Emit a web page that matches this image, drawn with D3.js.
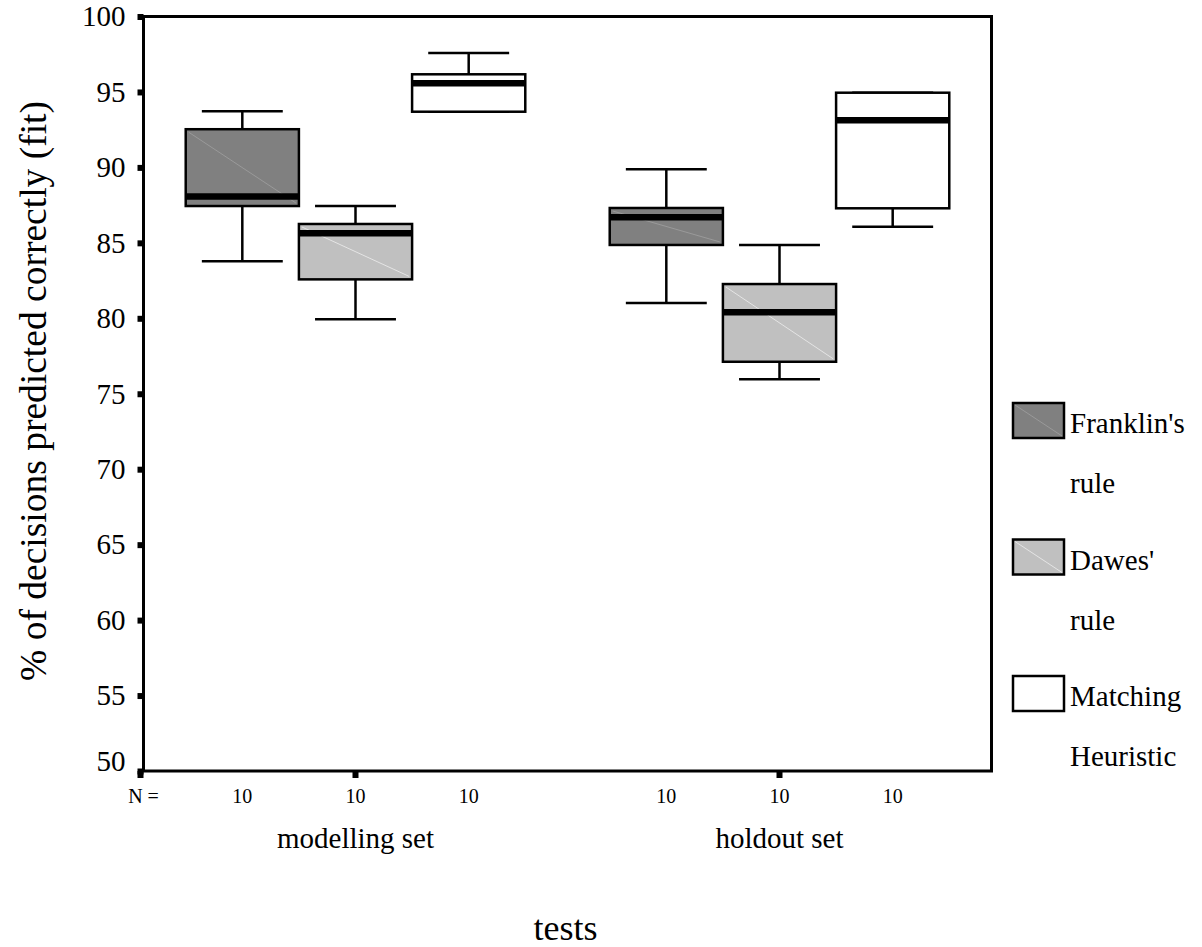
<!DOCTYPE html>
<html>
<head>
<meta charset="UTF-8">
<title>Boxplot: % of decisions predicted correctly</title>
<script src="https://d3js.org/d3.v7.min.js"></script>
<style>
    body { margin: 0; background: #fff; }
    svg { display: block; }
    svg text { font-family: "Liberation Serif", "DejaVu Serif", "Times New Roman", Times, serif; fill: #000; }
    .y-axis text { font-size: 29px; }
    .x-axis text { font-size: 20px; }
</style>
</head>
<body>
<div id="chart"></div>
<script>
    // groups on the x axis and the three rules inside each group
    let groups = ["modelling set", "holdout set"];
    let rules = ["Franklin's rule", "Dawes' rule", "Matching Heuristic"];
    let ruleLines = [["Franklin's", "rule"], ["Dawes'", "rule"], ["Matching", "Heuristic"]];
    let ruleColors = ["#808080", "#c0c0c0", "#ffffff"];
    let counts = [10, 10, 10];

    // [min, q1, median, q3, max] per group, one array per rule
    let franklin = [[83.78, 87.44, 88.07, 92.53, 93.72], [81.01, 84.86, 86.69, 87.31, 89.87]];
    let dawes    = [[79.93, 82.58, 85.63, 86.25, 87.44], [75.96, 77.12, 80.40, 82.27, 84.86]];
    let matching = [[93.69, 93.69, 95.57, 96.17, 97.58], [86.07, 87.29, 93.12, 94.95, 94.95]];
    let yTicks = [50, 55, 60, 65, 70, 75, 80, 85, 90, 95, 100];

    let stats = [franklin, dawes, matching];

    let serif = "'Liberation Serif', 'DejaVu Serif', 'Times New Roman', Times, serif";
    let W = 1202, H = 947;
    let plot = { left: 143.5, right: 991.5, top: 16.5, bottom: 771 };

    let svg = d3.select("#chart").append("svg")
        .attr("width", W)
        .attr("height", H)
        .attr("font-family", serif);

    let y = d3.scaleLinear()
        .domain([50, 100])
        .range([plot.bottom, plot.top]);

    let x0 = d3.scaleBand()
        .domain(groups)
        .range([plot.left, plot.right])
        .padding(0);

    let x1 = d3.scaleBand()
        .domain(rules)
        .range([0, x0.bandwidth()])
        .paddingInner(0)
        .paddingOuter(0.373);

    // frame
    svg.append("rect")
        .attr("x", plot.left)
        .attr("y", plot.top)
        .attr("width", plot.right - plot.left)
        .attr("height", plot.bottom - plot.top)
        .attr("fill", "none")
        .attr("stroke", "#000")
        .attr("stroke-width", 3);

    // y axis with square ticks
    let yAxis = svg.append("g")
        .attr("class", "y-axis")
        .attr("transform", "translate(" + plot.left + ",0)")
        .call(d3.axisLeft(y).tickValues(yTicks).tickSize(6).tickPadding(12));
    yAxis.attr("font-family", serif).attr("font-size", 29);
    yAxis.select(".domain").remove();
    yAxis.selectAll(".tick line").attr("stroke-width", 6);
    yAxis.selectAll(".tick text").attr("fill", "#000")
        .attr("dy", d => d == 50 ? "-0.02em" : "0.32em");

    // bottom squares at group centres and the corner
    let xAxis = svg.append("g")
        .attr("class", "x-axis")
        .attr("transform", "translate(0," + plot.bottom + ")")
        .call(d3.axisBottom(x0).tickSize(7).tickFormat(""));
    xAxis.select(".domain").remove();
    xAxis.selectAll(".tick line").attr("stroke-width", 6);
    xAxis.append("line")
        .attr("x1", plot.left - 3).attr("x2", plot.left - 3)
        .attr("y1", 0).attr("y2", 7)
        .attr("stroke", "#000").attr("stroke-width", 6);

    // N = labels
    svg.append("text")
        .attr("x", plot.left)
        .attr("y", 803)
        .attr("text-anchor", "middle")
        .attr("font-size", 20)
        .text("N =");

    groups.forEach((g, gi) => {
        rules.forEach((r, ri) => {
            let s = stats[ri][gi];
            let bx = x0(g) + x1(r);
            let bw = x1.bandwidth();
            let cx = bx + bw / 2;
            let cap = bw * 0.715;
            let box = svg.append("g");

            // whiskers
            box.append("line")
                .attr("x1", cx).attr("x2", cx)
                .attr("y1", y(s[0])).attr("y2", y(s[4]))
                .attr("stroke", "#000").attr("stroke-width", 2.5);
            [s[0], s[4]].forEach(v => {
                box.append("line")
                    .attr("x1", cx - cap / 2).attr("x2", cx + cap / 2)
                    .attr("y1", y(v)).attr("y2", y(v))
                    .attr("stroke", "#000").attr("stroke-width", 2.5);
            });

            // box
            box.append("rect")
                .attr("x", bx)
                .attr("y", y(s[3]))
                .attr("width", bw)
                .attr("height", y(s[1]) - y(s[3]))
                .attr("fill", ruleColors[ri])
                .attr("stroke", "#000")
                .attr("stroke-width", 2.5);

            // faint diagonal seen in the original fills
            box.append("line")
                .attr("x1", bx + 3).attr("y1", y(s[3]) + 3)
                .attr("x2", bx + bw - 3).attr("y2", y(s[1]) - 3)
                .attr("stroke", d3.color(ruleColors[ri]).brighter(0.6))
                .attr("stroke-width", 0.8);

            // median
            box.append("line")
                .attr("x1", bx).attr("x2", bx + bw)
                .attr("y1", y(s[2])).attr("y2", y(s[2]))
                .attr("stroke", "#000").attr("stroke-width", 6.5);

            svg.append("text")
                .attr("x", cx)
                .attr("y", 803)
                .attr("text-anchor", "middle")
                .attr("font-size", 20)
                .text(counts[ri]);
        });

        svg.append("text")
            .attr("x", x0(g) + x0.bandwidth() / 2)
            .attr("y", 848)
            .attr("text-anchor", "middle")
            .attr("font-size", 29)
            .text(g);
    });

    // axis titles
    svg.append("text")
        .attr("x", (plot.left + plot.right) / 2 - 2)
        .attr("y", 940)
        .attr("text-anchor", "middle")
        .attr("font-size", 36)
        .text("tests");

    svg.append("text")
        .attr("transform", "translate(46,391) rotate(-90)")
        .attr("text-anchor", "middle")
        .attr("font-size", 37.5)
        .text("% of decisions predicted correctly (fit)");

    // legend
    let legend = svg.append("g").attr("transform", "translate(1013,403)");
    rules.forEach((r, i) => {
        let item = legend.append("g").attr("transform", "translate(0," + (i * 136.5) + ")");
        item.append("rect")
            .attr("width", 51).attr("height", 35)
            .attr("fill", ruleColors[i])
            .attr("stroke", "#000").attr("stroke-width", 2.5);
        item.append("line")
            .attr("x1", 2).attr("y1", 2).attr("x2", 49).attr("y2", 33)
            .attr("stroke", d3.color(ruleColors[i]).brighter(0.6))
            .attr("stroke-width", 0.8);
        ruleLines[i].forEach((t, j) => {
            item.append("text")
                .attr("x", 57)
                .attr("y", 30 + j * 60)
                .attr("font-size", 29)
                .text(t);
        });
    });
</script>
</body>
</html>
